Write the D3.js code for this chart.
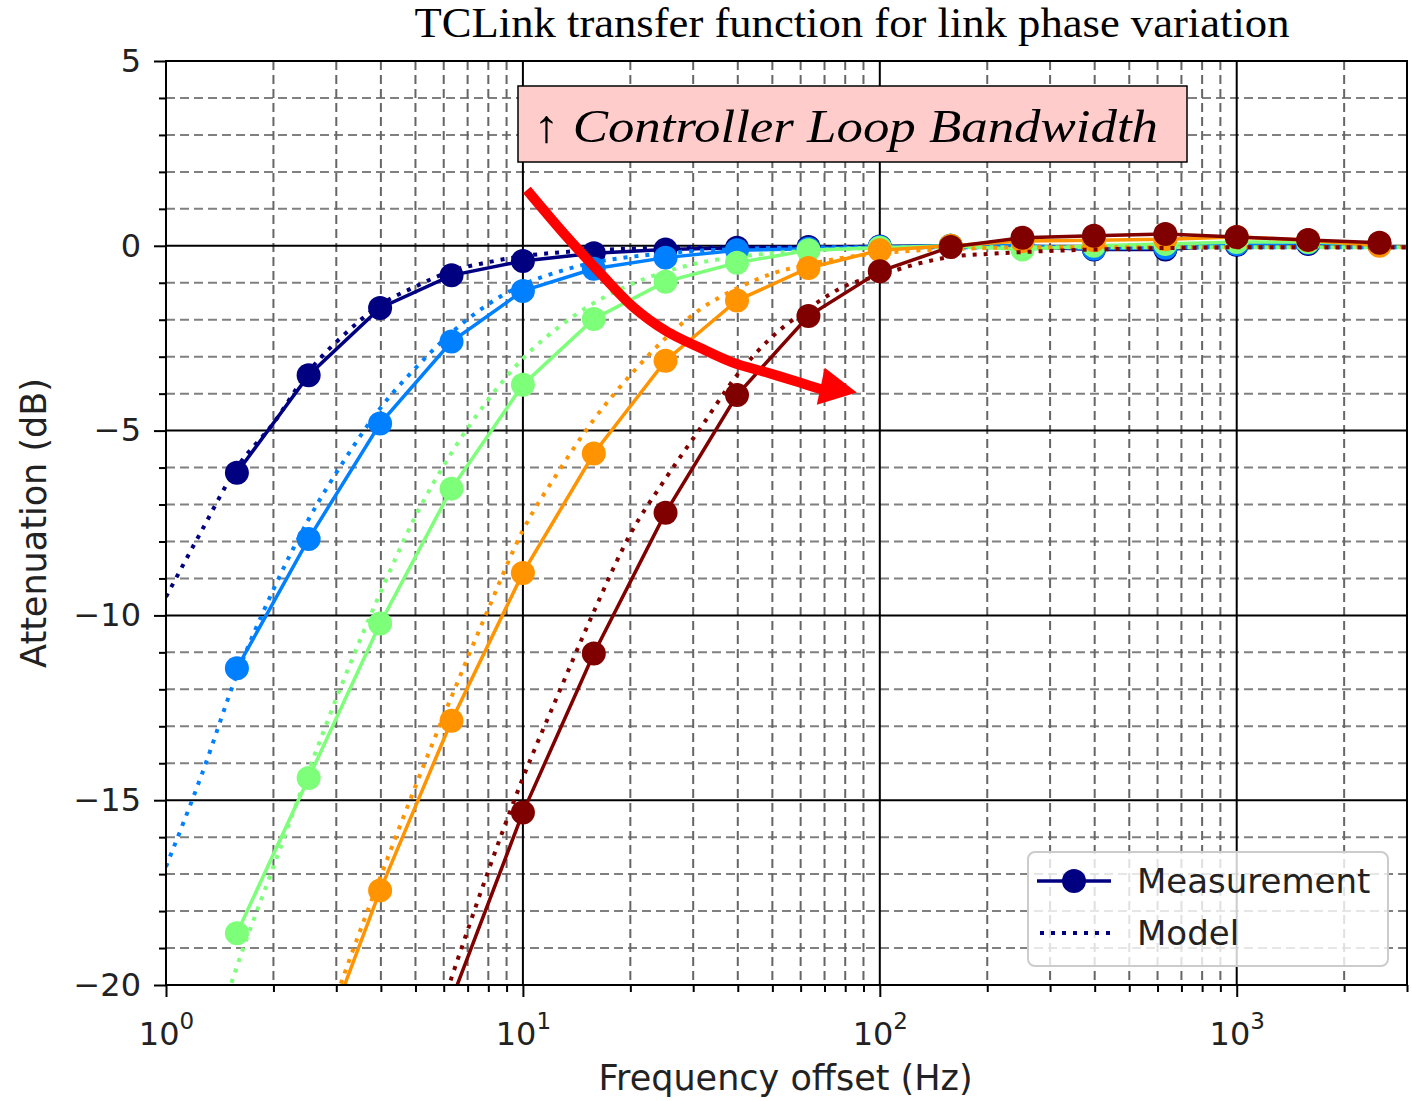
<!DOCTYPE html>
<html>
<head>
<meta charset="utf-8">
<script src="https://cdn.jsdelivr.net/npm/d3@7"></script>
<style>
  body { margin: 0; background: #fff; }
  svg { display: block; font-family: "DejaVu Sans", sans-serif; }
</style>
</head>
<body>
<div id="chart"></div>
<script>
// measured points (Hz)
const measFreq = [1.58, 2.51, 3.98, 6.31, 10, 15.8, 25.1, 39.8, 63.1, 100, 158, 251, 398, 631, 1000, 1585, 2512];
// model curve sample frequencies (Hz)
const modelFreq = [1, 1.26, 1.58, 2, 2.51, 3.16, 3.98, 5.01, 6.31, 7.94, 10, 12.6, 15.8, 20, 25.1, 31.6, 39.8, 50.1,
  63.1, 79.4, 100, 126, 158, 200, 251, 316, 398, 501, 631, 794, 1000, 1259, 1585, 1995, 2512, 3162];

const seriesColors = ["#000080", "#0080ff", "#7dff7a", "#ff9400", "#800000"];

// attenuation in dB, one array per loop bandwidth setting
const measBw1 = [-6.14, -3.5, -1.68, -0.8, -0.41, -0.2, -0.1, -0.05, -0.03, -0.02, 0.0, -0.02, -0.1, -0.1, 0.02, 0.05, 0.02];
const measBw2 = [-11.43, -7.93, -4.81, -2.59, -1.22, -0.62, -0.32, -0.12, -0.08, -0.03, 0.0, 0.0, -0.08, -0.05, 0.05, 0.08, 0.03];
const measBw3 = [-18.6, -14.4, -10.22, -6.57, -3.76, -1.98, -0.97, -0.46, -0.12, -0.05, 0.0, -0.1, 0.0, 0.05, 0.1, 0.1, 0.05];
const measBw4 = [null, -22.6, -17.44, -12.85, -8.85, -5.62, -3.11, -1.48, -0.6, -0.12, 0.0, 0.13, 0.15, 0.18, 0.24, 0.15, 0.0];
const measBw5 = [null, null, null, -20.4, -15.33, -11.03, -7.22, -4.04, -1.9, -0.69, -0.03, 0.22, 0.27, 0.32, 0.24, 0.16, 0.08];

const modelBw1 = [-9.5, -7.7, -6.0, -4.8, -3.4, -2.4, -1.6, -1.1, -0.68, -0.45, -0.28, -0.18, -0.12, -0.08, -0.05, -0.04, -0.04, -0.04,
  -0.04, -0.04, -0.04, -0.04, -0.04, -0.04, -0.04, -0.04, -0.04, -0.04, -0.04, -0.04, -0.04, -0.04, -0.04, -0.04, -0.04, -0.04];
const modelBw2 = [-16.8, -14.3, -11.6, -9.3, -7.4, -5.8, -4.4, -3.3, -2.35, -1.6, -1.05, -0.7, -0.45, -0.3, -0.2, -0.13, -0.09, -0.06,
  -0.05, -0.04, -0.04, -0.04, -0.04, -0.04, -0.04, -0.04, -0.04, -0.04, -0.04, -0.04, -0.04, -0.04, -0.04, -0.04, -0.04, -0.04];
const modelBw3 = [null, -22.5, -19.5, -16.8, -14.2, -11.7, -9.4, -7.3, -5.6, -4.2, -3.05, -2.2, -1.55, -1.05, -0.7, -0.45, -0.3, -0.2,
  -0.13, -0.08, -0.06, -0.04, -0.04, -0.04, -0.04, -0.04, -0.04, -0.04, -0.04, -0.04, -0.04, -0.04, -0.04, -0.04, -0.04, -0.04];
const modelBw4 = [null, null, null, null, -22.5, -19.7, -17.1, -14.6, -12.2, -9.9, -7.7, -6.1, -4.7, -3.5, -2.5, -1.7, -1.15, -0.75,
  -0.5, -0.32, -0.2, -0.13, -0.09, -0.06, -0.04, -0.04, -0.04, -0.04, -0.04, -0.04, -0.04, -0.04, -0.04, -0.04, -0.04, -0.04];
const modelBw5 = [null, null, null, null, null, null, null, -22.7, -19.8, -17.0, -14.4, -12.1, -9.9, -7.8, -6.3, -4.9, -3.5, -2.45,
  -1.7, -1.1, -0.8, -0.5, -0.3, -0.22, -0.17, -0.13, -0.1, -0.08, -0.06, -0.05, -0.04, -0.04, -0.04, -0.04, -0.04, -0.04];

const measSeries = [measBw1, measBw2, measBw3, measBw4, measBw5];
const modelSeries = [modelBw1, modelBw2, modelBw3, modelBw4, modelBw5];

const yMajor = [-20, -15, -10, -5, 0, 5];
const xMajor = [1, 10, 100, 1000];

// annotation arrow, in (Hz, dB)
const arrowPath = [[10.26, 1.51], [13.28, 0.24], [16.43, -0.73], [20.33, -1.65], [25.32, -2.32], [31.32, -2.76],
  [38.75, -3.16], [48.27, -3.43], [59.7, -3.7], [68.8, -3.89]];
const arrowHead = [[86.2, -3.97], [70.1, -3.3], [66.6, -4.3]];

const margin = {top: 61, right: 5, bottom: 116, left: 166},
      width = 1412 - margin.left - margin.right,
      height = 1101 - margin.top - margin.bottom;

const root = d3.select("#chart").append("svg")
  .attr("width", 1412)
  .attr("height", 1101);

const svg = root.append("g")
  .attr("transform", `translate(${margin.left},${margin.top})`);

const x = d3.scaleLog().domain([1, 3000]).range([0, width]);
const y = d3.scaleLinear().domain([-20, 5]).range([height, 0]);

svg.append("clipPath").attr("id", "plotclip")
  .append("rect").attr("width", width).attr("height", height);

// minor tick values
const xMinor = [];
xMajor.forEach(d => { for (let m = 2; m <= 9; m++) if (d * m <= 3000) xMinor.push(d * m); });
const yMinor = d3.range(-20, 6, 1).filter(v => v % 5 !== 0);

// grid
const grid = svg.append("g");
grid.selectAll(".hmin").data(yMinor).enter().append("line")
  .attr("x1", 0).attr("x2", width)
  .attr("y1", d => y(d)).attr("y2", d => y(d))
  .attr("stroke", "#808080").attr("stroke-width", 2).attr("stroke-dasharray", "9,5");
grid.selectAll(".vmin").data(xMinor).enter().append("line")
  .attr("y1", 0).attr("y2", height)
  .attr("x1", d => x(d)).attr("x2", d => x(d))
  .attr("stroke", "#666").attr("stroke-width", 2).attr("stroke-dasharray", "9,5");
grid.selectAll(".hmaj").data(yMajor).enter().append("line")
  .attr("x1", 0).attr("x2", width)
  .attr("y1", d => y(d)).attr("y2", d => y(d))
  .attr("stroke", "#000").attr("stroke-width", 2);
grid.selectAll(".vmaj").data(xMajor).enter().append("line")
  .attr("y1", 0).attr("y2", height)
  .attr("x1", d => x(d)).attr("x2", d => x(d))
  .attr("stroke", "#000").attr("stroke-width", 2);

// data
const plot = svg.append("g").attr("clip-path", "url(#plotclip)");

const measLine = d3.line()
  .defined(d => d[1] !== null)
  .x(d => x(d[0])).y(d => y(d[1]));
const modelLine = d3.line()
  .defined(d => d[1] !== null)
  .curve(d3.curveMonotoneX)
  .x(d => x(d[0])).y(d => y(d[1]));

measSeries.forEach((vals, i) => {
  const pts = measFreq.map((f, j) => [f, vals[j]]);
  const mpts = modelFreq.map((f, j) => [f, modelSeries[i][j]]);
  const g = plot.append("g");
  g.append("path")
    .attr("d", measLine(pts))
    .attr("fill", "none")
    .attr("stroke", seriesColors[i])
    .attr("stroke-width", 3.5);
  g.selectAll("circle")
    .data(pts.filter(d => d[1] !== null))
    .enter().append("circle")
    .attr("cx", d => x(d[0]))
    .attr("cy", d => y(d[1]))
    .attr("r", 12)
    .attr("fill", seriesColors[i]);
  g.append("path")
    .attr("d", modelLine(mpts))
    .attr("fill", "none")
    .attr("stroke", seriesColors[i])
    .attr("stroke-width", 4)
    .attr("stroke-dasharray", "4,7");
});

// frame
svg.append("rect")
  .attr("width", width).attr("height", height)
  .attr("fill", "none").attr("stroke", "#000").attr("stroke-width", 2);

// axes
const fmt = d => d < 0 ? "\u2212" + (-d) : String(d);

svg.append("g")
  .call(d3.axisLeft(y).tickValues(yMinor).tickSize(7).tickFormat(""))
  .call(g => g.select(".domain").remove())
  .selectAll("line").attr("stroke-width", 2);

const yAxis = svg.append("g")
  .call(d3.axisLeft(y).tickValues(yMajor).tickSize(12).tickFormat(fmt));
yAxis.select(".domain").remove();
yAxis.selectAll("line").attr("stroke-width", 2);
yAxis.selectAll("text")
  .attr("x", -25)
  .attr("font-size", 32)
  .attr("font-family", "DejaVu Sans")
  .attr("fill", "#222");

svg.append("g")
  .attr("transform", `translate(0,${height})`)
  .call(d3.axisBottom(x).tickValues(xMinor).tickSize(7).tickFormat(""))
  .call(g => g.select(".domain").remove())
  .selectAll("line").attr("stroke-width", 2);

const xAxis = svg.append("g")
  .attr("transform", `translate(0,${height})`)
  .call(d3.axisBottom(x).tickValues(xMajor).tickSize(12).tickFormat(""));
xAxis.select(".domain").remove();
xAxis.selectAll("line").attr("stroke-width", 2);
xAxis.selectAll(".tick text")
  .attr("y", 60).attr("dy", 0)
  .attr("font-size", 32)
  .attr("font-family", "DejaVu Sans")
  .attr("fill", "#222")
  .each(function(d) {
    const t = d3.select(this);
    t.append("tspan").text("10");
    t.append("tspan").attr("dy", -16).attr("font-size", 23).text(Math.round(Math.log10(d)));
  });

svg.append("text")
  .attr("x", width / 2 - 1)
  .attr("y", height + 105)
  .attr("text-anchor", "middle")
  .attr("font-size", 35)
  .attr("fill", "#222")
  .text("Frequency offset (Hz)");

svg.append("text")
  .attr("transform", "rotate(-90)")
  .attr("x", -height / 2)
  .attr("y", -120)
  .attr("text-anchor", "middle")
  .attr("font-size", 35)
  .attr("fill", "#222")
  .text("Attenuation (dB)");

// red arrow
svg.append("path")
  .attr("d", d3.line().curve(d3.curveCatmullRom).x(d => x(d[0])).y(d => y(d[1]))(arrowPath))
  .attr("fill", "none")
  .attr("stroke", "#ff0000")
  .attr("stroke-width", 10);
svg.append("path")
  .attr("d", d3.line().x(d => x(d[0])).y(d => y(d[1]))(arrowHead) + "Z")
  .attr("fill", "#ff0000");

// annotation box
root.append("rect")
  .attr("x", 518).attr("y", 86)
  .attr("width", 669).attr("height", 76)
  .attr("fill", "#ffcccc")
  .attr("stroke", "#000")
  .attr("stroke-width", 1.5);
root.append("text")
  .attr("x", 533).attr("y", 142)
  .attr("font-family", "Liberation Serif, serif")
  .attr("font-style", "italic")
  .attr("font-size", 46)
  .attr("textLength", 625)
  .attr("lengthAdjust", "spacingAndGlyphs")
  .attr("fill", "#000")
  .text("\u2191 Controller Loop Bandwidth");

// legend
const legend = svg.append("g")
  .attr("transform", `translate(${1028 - margin.left},${852 - margin.top})`);
legend.append("rect")
  .attr("width", 360).attr("height", 114)
  .attr("rx", 7)
  .attr("fill", "#fff").attr("fill-opacity", 0.8)
  .attr("stroke", "#ccc").attr("stroke-width", 2);
legend.append("line")
  .attr("x1", 9).attr("x2", 83).attr("y1", 29).attr("y2", 29)
  .attr("stroke", seriesColors[0]).attr("stroke-width", 3.5);
legend.append("circle")
  .attr("cx", 46).attr("cy", 29).attr("r", 12)
  .attr("fill", seriesColors[0]);
legend.append("line")
  .attr("x1", 12).attr("x2", 83).attr("y1", 81).attr("y2", 81)
  .attr("stroke", seriesColors[0]).attr("stroke-width", 4)
  .attr("stroke-dasharray", "4,7");
legend.append("text")
  .attr("x", 109).attr("y", 41)
  .attr("font-size", 34).attr("fill", "#222")
  .text("Measurement");
legend.append("text")
  .attr("x", 109).attr("y", 93)
  .attr("font-size", 34).attr("fill", "#222")
  .text("Model");

// title
root.append("text")
  .attr("x", 852).attr("y", 37)
  .attr("text-anchor", "middle")
  .attr("font-family", "Liberation Serif, serif")
  .attr("font-size", 42)
  .attr("textLength", 875)
  .attr("lengthAdjust", "spacingAndGlyphs")
  .attr("fill", "#000")
  .text("TCLink transfer function for link phase variation");
</script>
</body>
</html>
